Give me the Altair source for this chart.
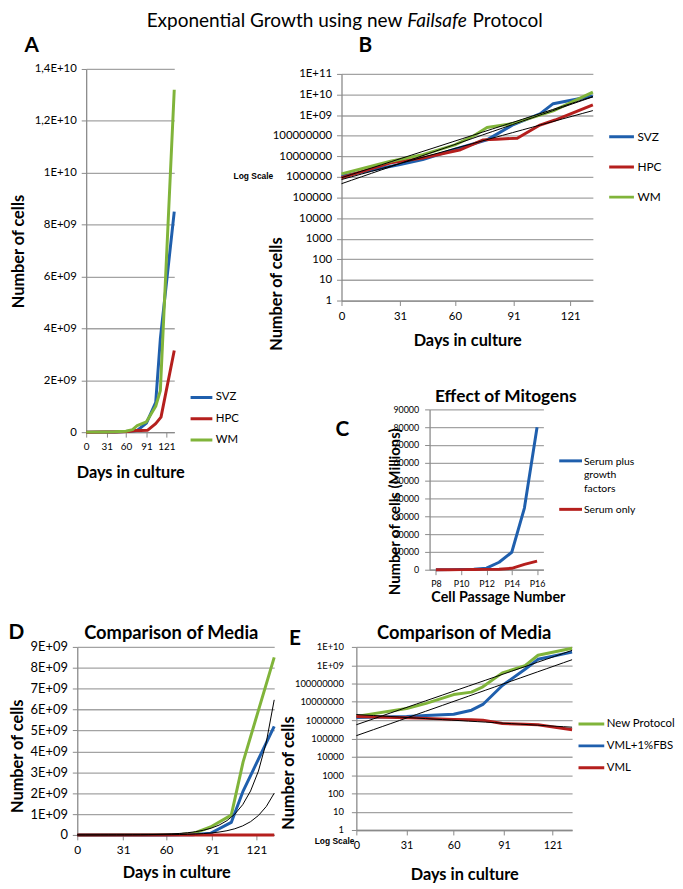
import altair as alt
import pandas as pd

FONT = "Lato"
BLUE = "#1F5FAD"
RED = "#B51F1D"
GREEN = "#80B43A"
GRID = "#A3A3A3"
AXIS_C = "#8A8A8A"

# ---------------- data ----------------
growth_series = ["SVZ", "HPC", "WM"]
svz_days = [0, 31, 43, 60, 77, 91, 105, 112, 133]
svz_cells = [1.1e6, 4.0e6, 6.9e6, 2.2e7, 6.3e7, 3.5e8, 1.15e9, 3.6e9, 8.5e9]
hpc_days = [0, 26, 43, 63, 75, 82, 93, 105, 113, 133]
hpc_cells = [9.1e5, 4.8e6, 8.3e6, 2.1e7, 6.3e7, 6.8e7, 7.6e7, 3.3e8, 5.8e8, 3.15e9]
wm_days = [0, 26, 43, 60, 70, 77, 91, 105, 112, 133]
wm_cells = [1.4e6, 5.8e6, 1.2e7, 3.6e7, 1.0e8, 2.5e8, 4.0e8, 1.0e9, 1.6e9, 1.32e10]

day_ticks = [0, 31, 60, 91, 121]

passages = ["P8", "P9", "P10", "P11", "P12", "P13", "P14", "P15", "P16"]
passage_ticks = ["P8", "P10", "P12", "P14", "P16"]
mitogen_series = ["Serum plus growth factors", "Serum only"]
serum_gf = [0, 50, 150, 300, 900, 4200, 9800, 34600, 80000]
serum_only = [0, 0, 50, 100, 200, 300, 800, 3000, 4800]

media_series = ["New Protocol", "VML+1%FBS", "VML"]
media_days = [0, 31, 43, 60, 71, 78, 90, 104, 112, 133]
new_protocol = [1.6e6, 4.3e6, 8.3e6, 2.5e7, 3.4e7, 6.6e7, 3.8e8, 9.5e8, 3.5e9, 8.5e9]
vml_fbs = [1.4e6, 1.6e6, 1.8e6, 2.1e6, 3.5e6, 7.2e6, 7.8e7, 6.0e8, 2.1e9, 5.2e9]
vml = [1.6e6, 1.35e6, 1.25e6, 1.1e6, 1.05e6, 1.0e6, 6.6e5, 5.9e5, 5.6e5, 3.0e5]


def long_form(names, days_list, values_list):
    rows = []
    for s, ds, vs in zip(names, days_list, values_list):
        for d, v in zip(ds, vs):
            rows.append({"series": s, "day": d, "cells": v})
    return pd.DataFrame(rows)


growth = long_form(growth_series, [svz_days, hpc_days, wm_days],
                   [svz_cells, hpc_cells, wm_cells])
media = long_form(media_series, [media_days] * 3, [new_protocol, vml_fbs, vml])
mitogen = long_form(mitogen_series,
                    [[int(p[1:]) for p in passages]] * 2, [serum_gf, serum_only])

# ---------------- helpers ----------------
SCI = ("datum.value == 0 ? '0' : "
       "replace(format(datum.value / pow(10, floor(log(datum.value) / LN10 + 1e-9)), '.2~f'), '.', ',')"
       " + 'E+' + (floor(log(datum.value) / LN10 + 1e-9) < 10 ? '0' : '')"
       " + floor(log(datum.value) / LN10 + 1e-9)")
LOGL = ("datum.value >= 1e9 ? '1E+' + (round(log(datum.value) / LN10) < 10 ? '0' : '')"
        " + round(log(datum.value) / LN10) : format(datum.value, 'd')")


def yax(values, expr, lsize, tx, ty, pad=5, title="Number of cells", tsize=16.5):
    return alt.Axis(values=values, labelExpr=expr, labelFontSize=lsize, labelPadding=pad,
                    tickSize=5, grid=True, labelFlush=False, labelOverlap=False,
                    title=title, titleFontSize=tsize, titleFontWeight="bold",
                    titleX=tx, titleY=ty, titleAngle=270, titleAlign="center",
                    titleBaseline="middle")


def xax(values, lsize, tx, ty, pad=5, title="Days in culture", tsize=16.5, expr=None):
    kw = {}
    if expr:
        kw["labelExpr"] = expr
    return alt.Axis(values=values, labelFontSize=lsize, labelPadding=pad, tickSize=5,
                    grid=False, labelAngle=0, labelFlush=False, labelOverlap=False,
                    title=title, titleFontSize=tsize, titleFontWeight="bold",
                    titleX=tx, titleY=ty, titleAlign="center", titleBaseline="middle", **kw)


def txt(text, x, y, size=21, weight="bold", style="normal", align="center", font=FONT):
    return alt.Chart(pd.DataFrame({"t": [text]})).mark_text(
        font=font, fontSize=size, fontWeight=weight, fontStyle=style, align=align,
        baseline="middle", color="black").encode(x=alt.value(x), y=alt.value(y), text="t:N")


def legend(x, y, sym, fsize, clip, rowpad, offset=2):
    return alt.Legend(orient="none", legendX=x, legendY=y, title=None, symbolType="stroke",
                      symbolStrokeWidth=3, symbolSize=sym, labelFont=FONT,
                      labelFontSize=fsize, labelColor="black", clipHeight=clip,
                      rowPadding=rowpad, labelOffset=offset)


def fit_layer(df, xenc, yenc, exclude=None):
    ch = alt.Chart(df)
    if exclude:
        ch = ch.transform_filter(alt.datum.series != exclude)
    return (ch.transform_calculate(lv="log(datum.cells)")
            .transform_regression("day", "lv", method="poly", order=1, groupby=["series"])
            .transform_calculate(cells="exp(datum.lv)")
            .mark_line(color="black", strokeWidth=1)
            .encode(x=xenc, y=yenc, detail="series:N"))


def spacer(w, h):
    return alt.Chart(pd.DataFrame({"a": [0]})).mark_point(opacity=0).encode(
        x=alt.value(0), y=alt.value(0)).properties(width=w, height=h)


LINE = dict(strokeWidth=3, strokeJoin="round")
growth_color_scale = alt.Scale(domain=growth_series, range=[BLUE, RED, GREEN])
media_color_scale = alt.Scale(domain=media_series, range=[GREEN, BLUE, RED])

# ---------------- Panel A ----------------
xA = alt.X("day:Q", scale=alt.Scale(domain=[0, 133], nice=False, zero=False),
           axis=xax(day_ticks, 10, 44.5, 41))
yA = alt.Y("cells:Q", scale=alt.Scale(domain=[0, 1.4e10], nice=False),
           axis=yax([i * 2e9 for i in range(8)], SCI, 11.5, -68, 184))
A_lines = alt.Chart(growth).mark_line(**LINE).encode(
    x=xA, y=yA,
    color=alt.Color("series:N", scale=growth_color_scale,
                    legend=legend(104, 324, 484, 11.5, 16, 5.5)))
A = alt.layer(A_lines, txt("A", -55, -23)).properties(width=89, height=367)

# ---------------- Panel B ----------------
xB = alt.X("day:Q", scale=alt.Scale(domain=[0, 133], nice=False, zero=False),
           axis=xax(day_ticks, 11.5, 127, 40))
yB = alt.Y("cells:Q", scale=alt.Scale(type="log", domain=[1, 1e11], nice=False),
           axis=yax([10 ** i for i in range(12)], LOGL, 11.5, -66, 222))
B_lines = alt.Chart(growth).mark_line(**LINE).encode(
    x=xB, y=yB,
    color=alt.Color("series:N", scale=growth_color_scale,
                    legend=legend(269, 55.5, 625, 12, 16, 14.5)))
B = alt.layer(
    B_lines,
    fit_layer(growth, xB, yB),
    txt("B", 24, -28),
    txt("Log Scale", -89, 103, size=8.5, font="Liberation Sans"),
    txt("Exponential Growth using new", 61.5, -53, size=19.2, weight="normal", align="right"),
    txt("Failsafe", 66.5, -53, size=19.2, weight="normal", style="italic", align="left"),
    txt("Protocol", 132.5, -53, size=19.2, weight="normal", align="left"),
).properties(width=254, height=229)

# ---------------- Panel C ----------------
xC = alt.X("day:Q", scale=alt.Scale(domain=[7.5, 16.5], nice=False, zero=False),
           axis=xax([int(p[1:]) for p in passage_ticks], 9, 69, 28, pad=5,
                    title="Cell Passage Number", tsize=14.5, expr="'P' + datum.value"))
yC = alt.Y("cells:Q", scale=alt.Scale(domain=[0, 90000], nice=False),
           axis=yax(list(range(0, 90001, 10000)), "format(datum.value, 'd')", 9, -35, 103,
                    pad=6, title="Number of cells (Millions)", tsize=15))
C_lines = alt.Chart(mitogen).mark_line(**LINE).encode(
    x=xC, y=yC,
    color=alt.Color("series:N", scale=alt.Scale(domain=mitogen_series, range=[BLUE, RED]),
                    legend=None))
C_layers = [C_lines, txt("C", -88, 21), txt("Effect of Mitogens", 77, -12, size=17.5)]
for name, col, yy in zip(mitogen_series, [BLUE, RED], [52, 101]):
    d = pd.DataFrame({"s": [name]})
    C_layers.append(alt.Chart(d).mark_rule(color=col, strokeWidth=3).encode(
        x=alt.value(131), x2=alt.value(154), y=alt.value(yy)))
    C_layers.append(alt.Chart(d).transform_calculate(
        lbl="replace(replace(datum.s, 'plus ', 'plus\\n'), 'growth ', 'growth\\n')"
    ).mark_text(align="left", baseline="alphabetic", font=FONT, fontSize=10.5,
                lineBreak="\n", lineHeight=14, color="black").encode(
        x=alt.value(156), y=alt.value(yy + 3.7), text="lbl:N"))
C = alt.layer(*C_layers).properties(width=115, height=162)

# ---------------- Panel D ----------------
xD = alt.X("day:Q", scale=alt.Scale(domain=[0, 133], nice=False, zero=False),
           axis=xax(day_ticks, 12, 100, 38))
yD = alt.Y("cells:Q", scale=alt.Scale(domain=[0, 9e9], nice=False),
           axis=yax([i * 1e9 for i in range(10)], SCI, 13, -60.5, 110))
D_lines = alt.Chart(media).mark_line(**LINE).encode(
    x=xD, y=yD, color=alt.Color("series:N", scale=media_color_scale, legend=None))
D = alt.layer(
    D_lines,
    fit_layer(media, xD, yD, exclude=media_series[2]),
    txt("D", -61.5, -14),
    txt("Comparison of Media", 95, -14, size=18.5),
).properties(width=199, height=190)

# ---------------- Panel E ----------------
xE = alt.X("day:Q", scale=alt.Scale(domain=[0, 133], nice=False, zero=False),
           axis=xax(day_ticks, 11, 109, 45))
yE = alt.Y("cells:Q", scale=alt.Scale(type="log", domain=[1, 1e10], nice=False),
           axis=yax([10 ** i for i in range(11)], LOGL, 9.5, -69, 127, pad=8))
E_lines = alt.Chart(media).mark_line(**LINE).encode(
    x=xE, y=yE,
    color=alt.Color("series:N", scale=media_color_scale,
                    legend=legend(223, 70, 676, 11.5, 16, 6, offset=1)))
E = alt.layer(
    E_lines,
    fit_layer(media, xE, yE),
    txt("E", -62, -8),
    txt("Comparison of Media", 109, -14, size=18.5),
    txt("Log Scale", -22, 196, size=8.5, font="Liberation Sans"),
).properties(width=218, height=185)

# ---------------- layout ----------------
def hc(*c, spacing):
    return alt.hconcat(*c, spacing=spacing, bounds="flush").resolve_scale(color="independent")


def vc(*c, spacing):
    return alt.vconcat(*c, spacing=spacing, bounds="flush").resolve_scale(color="independent")


C_row = hc(spacer(1, 1), C, spacing=88)
BC = vc(B, C_row, spacing=110)
BC_col = vc(spacer(1, 1), BC, spacing=4)
row1_inner = hc(A, BC_col, spacing=169)
row1 = hc(spacer(1, 1), row1_inner, spacing=8)
row2 = hc(D, E, spacing=83)

chart = vc(row1, row2, spacing=584).properties(
    padding={"left": 0, "top": 0, "right": 0, "bottom": 0}, background="white"
).configure_view(stroke=None).configure_axis(
    domainColor=AXIS_C, tickColor=AXIS_C, gridColor=GRID, gridWidth=1.3, domainWidth=1.3,
    labelFont=FONT, titleFont=FONT, labelColor="black", titleColor="black")

chart.save("out.html", embed_options={"renderer": "svg", "actions": False})
